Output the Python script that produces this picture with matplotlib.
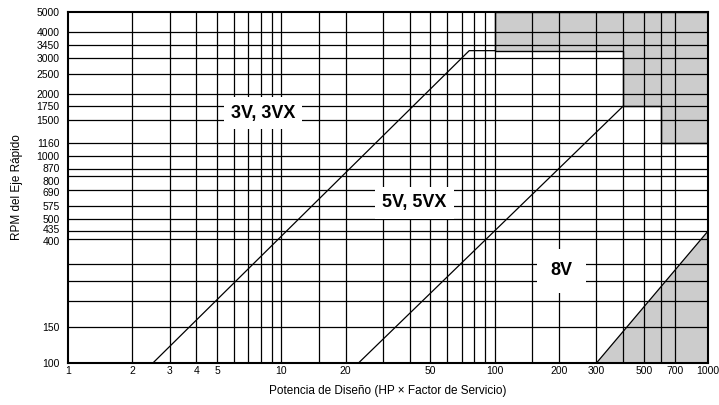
import numpy as np
import matplotlib.pyplot as plt
from matplotlib.transforms import ScaledTranslation

plt.rcParams['font.family'] = ['Liberation Sans', 'DejaVu Sans']

# Rejilla del ábaco (HP y RPM)
hp_grid = [2, 3, 4, 5, 6, 7, 8, 9, 10, 15, 20, 30, 40, 50, 60, 70, 80, 90,
           100, 150, 200, 300, 400, 500, 600, 700]
rpm_grid = [150, 200, 250, 300, 400, 435, 500, 575, 690, 800, 870, 1000,
            1160, 1500, 1750, 2000, 2500, 3000, 3450, 4000]

hp_ticks = [1, 2, 3, 4, 5, 10, 20, 50, 100, 200, 300, 500, 700, 1000]
rpm_ticks = [100, 150, 400, 435, 500, 575, 690, 800, 870, 1000, 1160,
             1500, 1750, 2000, 2500, 3000, 3450, 4000, 5000]

# Límites de cada sección de correa
hp_3v = [2.5, 76, 100]
rpm_3v = [100, 3250, 3250]
hp_5v = [23, 400]
rpm_5v = [100, 1750]
hp_8v = [300, 1000]
rpm_8v = [100, 435]

# Zona fuera de rango (superior derecha)
hp_zona = [100, 100, 400, 400, 600, 600, 1000, 1000]
rpm_zona = [5000, 3250, 3250, 1750, 1750, 1160, 1160, 5000]

gris = '#cccccc'

fig = plt.figure(figsize=(7.19, 4.05), dpi=100)
ax = fig.add_axes([68 / 719, 42 / 405, 640 / 719, 351 / 405])
ax.set_xscale('log')
ax.set_yscale('log')
ax.set_xlim(1, 1000)
ax.set_ylim(100, 5000)

for h in hp_grid:
    ax.axvline(h, color='black', linewidth=0.9, zorder=1)
for r in rpm_grid:
    ax.axhline(r, color='black', linewidth=0.9, zorder=1)

# Zonas sombreadas
ax.fill(hp_zona, rpm_zona, facecolor=gris, edgecolor='black',
        linewidth=1.0, zorder=0)
ax.fill(hp_8v + [1000], rpm_8v + [100], facecolor=gris, edgecolor='none',
        zorder=0)

ax.plot(hp_3v, rpm_3v, color='black', linewidth=0.9, zorder=2)
ax.plot(hp_5v, rpm_5v, color='black', linewidth=0.9, zorder=2)
ax.plot(hp_8v, rpm_8v, color='black', linewidth=0.9, zorder=2)

# Etiquetas de las secciones
caja = dict(facecolor='white', edgecolor='none', boxstyle='square,pad=0.4')
ax.text(8.2, 1620, '3V, 3VX', fontsize=13, fontweight='bold',
        ha='center', va='center', bbox=caja, zorder=3)
ax.text(42, 595, '5V, 5VX', fontsize=13, fontweight='bold',
        ha='center', va='center', bbox=caja, zorder=3)
ax.text(205, 280, '8V', fontsize=13, fontweight='bold',
        ha='center', va='center',
        bbox=dict(facecolor='white', edgecolor='none',
                  boxstyle='square,pad=0.75'), zorder=3)

ax.set_xticks(hp_ticks)
ax.set_xticklabels([str(v) for v in hp_ticks])
ax.set_yticks(rpm_ticks)
ax.set_yticklabels([str(v) for v in rpm_ticks])
ax.xaxis.set_minor_locator(plt.NullLocator())
ax.yaxis.set_minor_locator(plt.NullLocator())
ax.tick_params(axis='both', length=0, labelsize=7.5)
ax.tick_params(axis='x', pad=2.5)
ax.tick_params(axis='y', pad=6)

# separar las etiquetas de RPM que quedan muy juntas (desplazamiento en puntos)
desplaz = {435: 1.5, 400: -1.5, 870: 0.5, 800: -3.0, 690: -1.5}
for valor, lab in zip(rpm_ticks, ax.get_yticklabels()):
    if valor in desplaz:
        lab.set_transform(lab.get_transform() +
                          ScaledTranslation(0, desplaz[valor] / 72,
                                            fig.dpi_scale_trans))

for s in ax.spines.values():
    s.set_linewidth(1.5)
    s.set_zorder(4)

ax.set_xlabel('Potencia de Diseño (HP × Factor de Servicio)', fontsize=8.5,
              labelpad=6)
ax.set_ylabel('RPM del Eje Rápido', fontsize=8.5, labelpad=10)

fig.savefig('out.png', dpi=100)
